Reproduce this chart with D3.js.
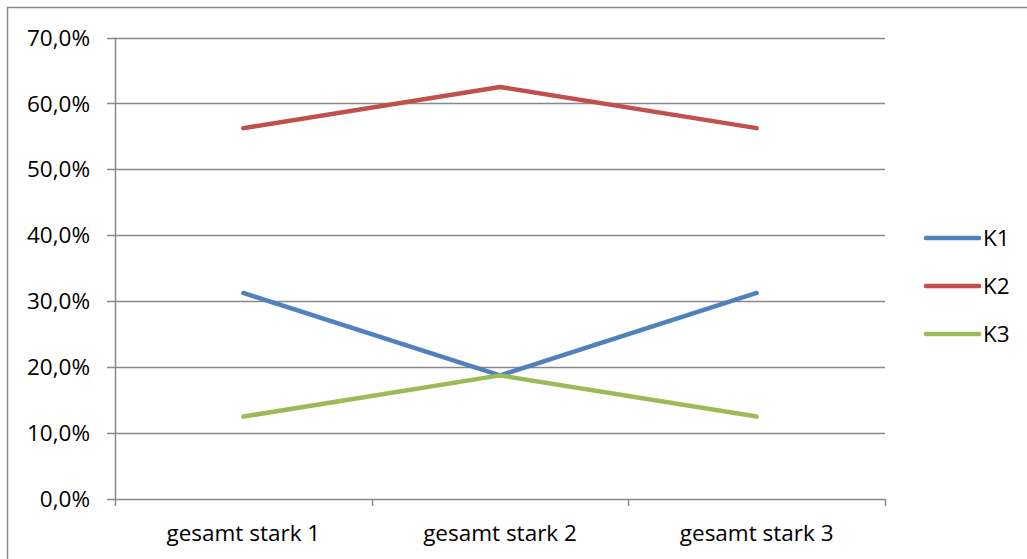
<!DOCTYPE html>
<html><head><meta charset="utf-8">
<script src="https://cdn.jsdelivr.net/npm/d3@7"></script>
<style>body{margin:0;background:#fff;}svg{display:block;}</style>
</head><body>
<svg id="c" width="1027" height="559"></svg>
<script>
const categories = ["gesamt stark 1", "gesamt stark 2", "gesamt stark 3"];
const seriesNames = ["K1", "K2", "K3"];
const k1 = [31.25, 18.75, 31.25];
const k2 = [56.25, 62.5, 56.25];
const k3 = [12.5, 18.75, 12.5];
const yTicks = [0, 10, 20, 30, 40, 50, 60, 70];
const colors = ["#4F81BD", "#C0504D", "#9BBB59"];
const seriesValues = [k1, k2, k3];

(function () {
const svg = d3.select("#c");
const font = "'Open Sans', sans-serif";
const fs = 22.5;
const pL = 115, pR = 885, pT = 37.5, pB = 499;

svg.append("rect").attr("x", 7.5).attr("y", 7.5).attr("width", 1040).attr("height", 600)
  .attr("fill", "none").attr("stroke", "#898989").attr("stroke-width", 1.5);

const y = d3.scaleLinear().domain([0, 70]).range([pB, pT]);
const xb = d3.scaleBand().domain(categories).range([pL, pR]);
const x = c => xb(c) + xb.bandwidth() / 2;

const gy = svg.append("g");
yTicks.forEach(t => {
  gy.append("line").attr("x1", pL - 8).attr("x2", pR)
    .attr("y1", Math.round(y(t)) + 0.5).attr("y2", Math.round(y(t)) + 0.5)
    .attr("stroke", "#888").attr("stroke-width", 1.5);
  gy.append("text").attr("x", 90).attr("y", y(t)).attr("dy", "0.36em")
    .attr("text-anchor", "end").attr("font-family", font).attr("font-size", fs)
    .attr("fill", "#000").text(d3.format(".1f")(t).replace(".", ",") + "%");
});
svg.append("line").attr("x1", pL + 0.5).attr("x2", pL + 0.5).attr("y1", pT).attr("y2", pB)
  .attr("stroke", "#888").attr("stroke-width", 1.5);
const edges = categories.map(c => xb(c)).concat([pR]);
edges.forEach(e => {
  svg.append("line").attr("x1", Math.round(e) + 0.5).attr("x2", Math.round(e) + 0.5)
    .attr("y1", pB).attr("y2", pB + 7).attr("stroke", "#888").attr("stroke-width", 1.5);
});
categories.forEach(c => {
  svg.append("text").attr("x", x(c)).attr("y", 541).attr("text-anchor", "middle")
    .attr("font-family", font).attr("font-size", fs).attr("fill", "#000").text(c);
});

const line = d3.line().x((d, i) => x(categories[i])).y(d => y(d));
seriesValues.forEach((vals, i) => {
  svg.append("path").datum(vals).attr("d", line).attr("fill", "none")
    .attr("stroke", colors[i]).attr("stroke-width", 4.5)
    .attr("stroke-linecap", "round").attr("stroke-linejoin", "round");
});

seriesNames.forEach((n, i) => {
  const ly = 238 + i * 48;
  svg.append("line").attr("x1", 926).attr("x2", 979).attr("y1", ly).attr("y2", ly)
    .attr("stroke", colors[i]).attr("stroke-width", 4.5).attr("stroke-linecap", "round");
  svg.append("text").attr("x", 983).attr("y", ly).attr("dy", "0.36em")
    .attr("font-family", font).attr("font-size", fs).attr("fill", "#000").text(n);
});
})();
</script>
</body></html>
